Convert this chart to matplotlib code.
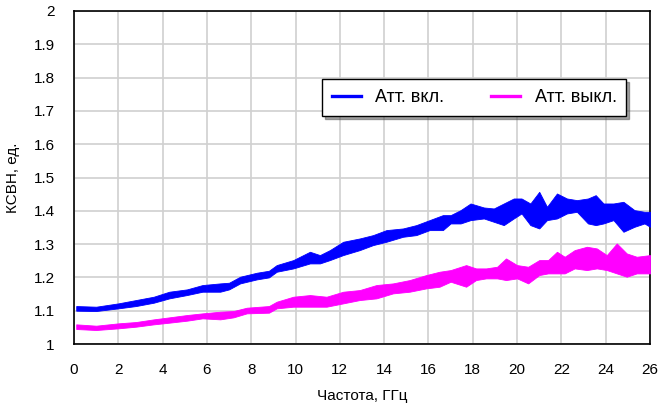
import matplotlib
matplotlib.use("Agg")
import matplotlib.pyplot as plt
import numpy as np

# КСВН, аттенюатор включён: частота (ГГц), нижняя и верхняя граница полосы
freq_on = [0.1, 1.0, 2.0, 2.8, 3.6, 4.3, 5.1, 5.8, 6.6, 7.0, 7.5, 8.25, 8.8,
           9.15, 9.9, 10.65, 11.1, 11.55, 12.15, 12.9, 13.5, 14.1, 14.85, 15.45,
           16.05, 16.65, 17.0, 17.45, 17.9, 18.5, 18.95, 19.4, 19.85, 20.2, 20.6,
           21.0, 21.35, 21.8, 22.25, 22.7, 23.2, 23.55, 23.9, 24.35, 24.8, 25.3,
           25.75, 26.0]
on_hi = [1.114, 1.112, 1.122, 1.132, 1.142, 1.157, 1.164, 1.177, 1.182, 1.184,
         1.202, 1.214, 1.220, 1.237, 1.252, 1.277, 1.267, 1.282, 1.307, 1.317,
         1.327, 1.342, 1.347, 1.357, 1.372, 1.387, 1.387, 1.402, 1.422, 1.410,
         1.407, 1.422, 1.437, 1.437, 1.422, 1.457, 1.412, 1.452, 1.437, 1.432,
         1.437, 1.447, 1.422, 1.422, 1.427, 1.402, 1.397, 1.397]
on_lo = [1.100, 1.099, 1.107, 1.114, 1.124, 1.137, 1.147, 1.157, 1.157, 1.164,
         1.182, 1.194, 1.200, 1.217, 1.227, 1.242, 1.242, 1.252, 1.267, 1.282,
         1.297, 1.307, 1.322, 1.327, 1.342, 1.342, 1.362, 1.362, 1.372, 1.377,
         1.367, 1.357, 1.377, 1.392, 1.357, 1.347, 1.372, 1.377, 1.392, 1.397,
         1.362, 1.357, 1.362, 1.372, 1.337, 1.352, 1.362, 1.352]

# КСВН, аттенюатор выключен
freq_off = [0.1, 1.0, 2.0, 2.8, 3.6, 4.3, 5.1, 5.8, 6.6, 7.2, 7.8, 8.8,
            9.15, 9.9, 10.65, 11.4, 12.15, 12.9, 13.65, 14.4, 15.15, 15.9, 16.5,
            17.0, 17.7, 18.15, 18.6, 19.1, 19.5, 20.0, 20.5, 21.0, 21.4, 21.8,
            22.15, 22.6, 23.15, 23.6, 24.05, 24.5, 24.95, 25.4, 26.0]
off_hi = [1.059, 1.055, 1.062, 1.066, 1.074, 1.080, 1.087, 1.092, 1.097, 1.099,
          1.109, 1.114, 1.127, 1.142, 1.147, 1.142, 1.157, 1.162, 1.177, 1.182,
          1.192, 1.207, 1.217, 1.222, 1.237, 1.227, 1.227, 1.232, 1.257, 1.237,
          1.232, 1.252, 1.252, 1.277, 1.262, 1.282, 1.292, 1.287, 1.267, 1.302,
          1.272, 1.262, 1.267]
off_lo = [1.045, 1.042, 1.047, 1.052, 1.059, 1.064, 1.070, 1.077, 1.074, 1.080,
          1.092, 1.094, 1.107, 1.112, 1.112, 1.112, 1.122, 1.132, 1.137, 1.152,
          1.157, 1.167, 1.172, 1.187, 1.172, 1.192, 1.197, 1.197, 1.192, 1.197,
          1.182, 1.207, 1.212, 1.212, 1.212, 1.227, 1.222, 1.227, 1.222, 1.212,
          1.202, 1.212, 1.212]

x_ticks = np.arange(0, 27, 2)
y_ticks = np.round(np.arange(1.0, 2.01, 0.1), 1)
y_labels = ['1', '1.1', '1.2', '1.3', '1.4', '1.5', '1.6', '1.7', '1.8', '1.9', '2']

plt.rcParams['font.family'] = ['Liberation Sans', 'DejaVu Sans']

fig = plt.figure(figsize=(6.58, 4.09), dpi=100)
ax = fig.add_axes([74 / 658, 65 / 409, 576 / 658, 333 / 409])

blue = '#0000ff'
pink = '#ff00ff'
ax.fill_between(freq_on, on_lo, on_hi, color=blue, lw=0.6, zorder=3)
ax.fill_between(freq_off, off_lo, off_hi, color=pink, lw=0.6, zorder=3)
ax.plot([], [], color=blue, lw=2.4, label='Атт. вкл.')
ax.plot([], [], color=pink, lw=2.4, label='Атт. выкл.')

ax.set_xlim(0, 26)
ax.set_ylim(1, 2)
ax.set_xticks(x_ticks)
ax.set_yticks(y_ticks)
ax.set_yticklabels(y_labels)
ax.tick_params(axis='both', length=0, labelsize=11)
ax.tick_params(axis='x', pad=14)
ax.tick_params(axis='y', pad=14)
ax.grid(True, color='#d0d0d0', lw=1.2)
ax.set_axisbelow(True)
for s in ax.spines.values():
    s.set_color('black')
    s.set_linewidth(1.2)

ax.set_xlabel('Частота, ГГц', fontsize=11, labelpad=8)
ax.set_ylabel('КСВН, ед.', fontsize=11, labelpad=10)

leg = ax.legend(loc='upper left', bbox_to_anchor=(322 / 658, 1 - 79 / 409),
                bbox_transform=fig.transFigure, borderaxespad=0, ncol=2,
                fontsize=13, frameon=True, fancybox=False, shadow=True,
                framealpha=1, edgecolor='black', handlelength=1.6,
                columnspacing=2.6, borderpad=0.55, handletextpad=0.8)
leg.get_frame().set_linewidth(1.0)

fig.savefig('out.png', dpi=100)
